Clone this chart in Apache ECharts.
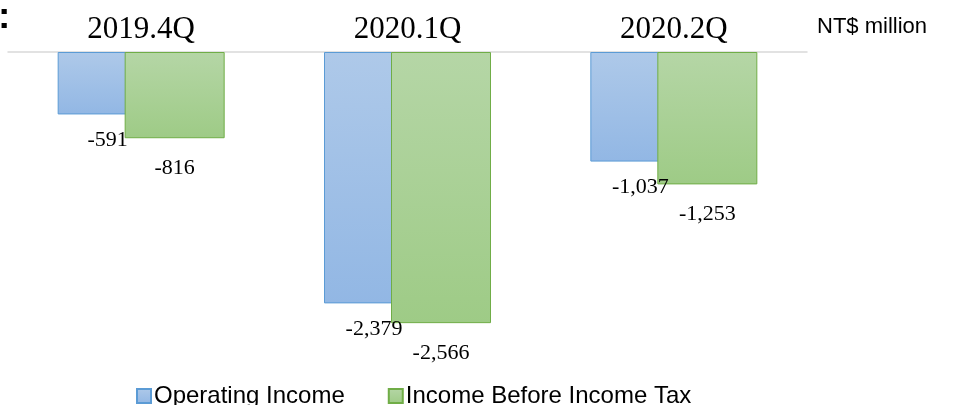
<!DOCTYPE html>
<html>
<head>
<meta charset="utf-8">
<script src="https://cdn.jsdelivr.net/npm/echarts@6/dist/echarts.min.js"></script>
<style>
  html, body { margin: 0; padding: 0; background: #ffffff; }
  #chart { width: 955px; height: 405px; }
</style>
</head>
<body>
<div id="chart"></div>
<script>
// Quarterly results, NT$ million
const quarters = ['2019.4Q', '2020.1Q', '2020.2Q'];
const operatingIncome = [-591, -2379, -1037];
const incomeBeforeTax = [-816, -2566, -1253];
const seriesNames = ['Operating Income', 'Income Before Income Tax'];
const unitLabel = 'NT$ million';

const serif = "'Liberation Serif', 'Times New Roman', serif";
const sans = "'Liberation Sans', Arial, sans-serif";

function grad(top, bottom) {
  return new echarts.graphic.LinearGradient(0, 0, 0, 1, [
    { offset: 0, color: top },
    { offset: 1, color: bottom }
  ]);
}

function fmt(v) {
  return v.toLocaleString('en-US');
}

const chart = echarts.init(document.getElementById('chart'), null, { renderer: 'canvas' });

chart.setOption({
  animation: false,
  backgroundColor: '#ffffff',
  grid: { left: 8, right: 148, top: 52, height: 317 },
  legend: {
    left: 131,
    top: 379,
    itemWidth: 14,
    itemHeight: 14,
    itemGap: 43,
    icon: 'rect',
    textStyle: { fontFamily: sans, fontSize: 24, color: '#000000', padding: [0, 0, 0, -2] },
    data: seriesNames
  },
  xAxis: {
    type: 'category',
    position: 'top',
    data: quarters,
    axisLine: { show: true, lineStyle: { color: '#d9d9d9', width: 1.5 } },
    axisTick: { show: false },
    axisLabel: { fontFamily: serif, fontSize: 31, color: '#000000', margin: 7 }
  },
  yAxis: {
    type: 'value',
    min: -3000,
    max: 0,
    show: false,
    splitLine: { show: false }
  },
  series: [
    {
      name: seriesNames[0],
      type: 'bar',
      data: operatingIncome,
      barWidth: 100,
      barGap: '-33%',
      itemStyle: {
        color: grad('#aec9e9', '#92b7e4'),
        borderColor: '#5b9bd5',
        borderWidth: 1
      },
      label: {
        show: true,
        position: 'bottom',
        distance: 15,
        fontFamily: serif,
        fontSize: 22,
        color: '#000000',
        formatter: p => fmt(p.value)
      }
    },
    {
      name: seriesNames[1],
      type: 'bar',
      data: incomeBeforeTax,
      barWidth: 100,
      barGap: '-33%',
      itemStyle: {
        color: grad('#b5d6a6', '#9ecb86'),
        borderColor: '#70ad47',
        borderWidth: 1
      },
      label: {
        show: true,
        position: 'bottom',
        distance: 19,
        fontFamily: serif,
        fontSize: 22,
        color: '#000000',
        formatter: p => fmt(p.value)
      }
    }
  ],
  graphic: [
    {
      type: 'text',
      left: 817,
      top: 16,
      style: { text: unitLabel, font: "22px " + sans, fill: '#000000' }
    },
    {
      type: 'text',
      left: -2,
      top: -1,
      style: { text: ':', font: "bold 37px " + sans, fill: '#000000' }
    }
  ]
});
</script>
</body>
</html>
